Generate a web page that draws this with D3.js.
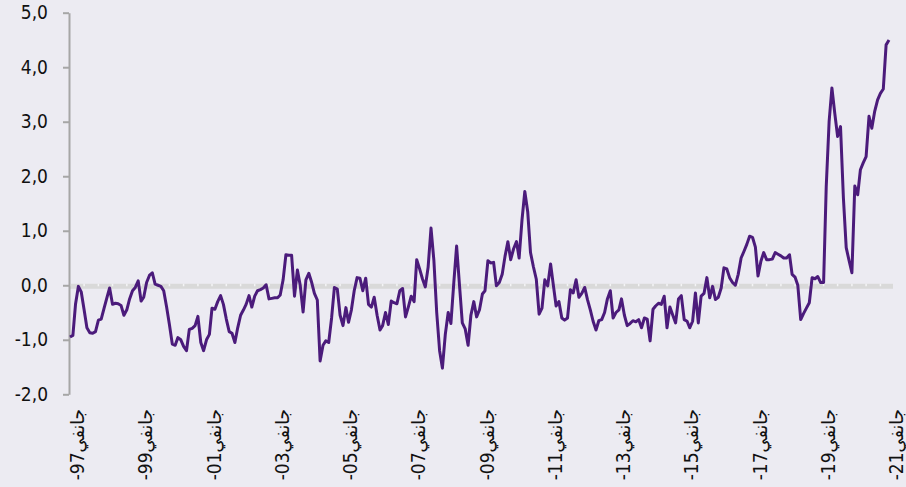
<!DOCTYPE html>
<html>
<head>
<meta charset="utf-8">
<script src="https://cdn.jsdelivr.net/npm/d3@7"></script>
<style>
body { margin: 0; background: #ecebf2; }
svg { display: block; }
text { font-family: "Liberation Sans Narrow", "DejaVu Sans Condensed", sans-serif; fill: #111; }
</style>
</head>
<body>
<div id="chart"></div>
<script>
// monthly series, starting January 1997
let startYear = 1997;
let values = [
  -0.95, -0.92, -0.35, -0.02, -0.12, -0.45, -0.78, -0.87, -0.88, -0.85, -0.64, -0.62,
  -0.42, -0.22, -0.05, -0.35, -0.33, -0.34, -0.37, -0.55, -0.45, -0.25, -0.10, -0.04,
   0.08, -0.29, -0.22,  0.05,  0.18,  0.23,  0.02,  0.00, -0.02, -0.10, -0.40, -0.72,
  -1.08, -1.10, -0.96, -1.00, -1.12, -1.20, -0.81, -0.79, -0.74, -0.57, -1.05, -1.20,
  -1.00, -0.90, -0.42, -0.44, -0.30, -0.19, -0.35, -0.62, -0.85, -0.88, -1.05, -0.78,
  -0.55, -0.45, -0.35, -0.19, -0.40, -0.20, -0.10, -0.08, -0.05,  0.01, -0.25, -0.24,
  -0.23, -0.23, -0.18,  0.10,  0.56,  0.55,  0.55, -0.20,  0.28,  0.00, -0.49,  0.10,
   0.22,  0.05, -0.15, -0.27, -1.39, -1.10, -1.02, -1.05, -0.60, -0.04, -0.07, -0.55,
  -0.74, -0.41, -0.68, -0.45, -0.10,  0.14,  0.13, -0.10,  0.13, -0.35, -0.40, -0.22,
  -0.55, -0.82, -0.74, -0.50, -0.72, -0.29, -0.32, -0.34, -0.10, -0.06, -0.58, -0.40,
  -0.20, -0.30,  0.47,  0.30,  0.12, -0.03,  0.33,  1.05,  0.45, -0.50, -1.20, -1.52,
  -0.90, -0.50, -0.70,  0.05,  0.72,  0.00, -0.69, -0.80, -1.10, -0.55, -0.30, -0.58,
  -0.45, -0.16, -0.10,  0.45,  0.41,  0.42, -0.01,  0.05,  0.20,  0.53,  0.80,  0.47,
   0.67,  0.80,  0.50,  1.20,  1.72,  1.35,  0.60,  0.34,  0.11, -0.53, -0.42,  0.10,
  -0.01,  0.39,  0.02, -0.38, -0.30, -0.60, -0.64, -0.60, -0.08, -0.14,  0.10, -0.22,
  -0.15, -0.04, -0.26, -0.45, -0.66, -0.82, -0.65, -0.63, -0.50, -0.25, -0.10, -0.60,
  -0.50, -0.45, -0.25, -0.55, -0.74, -0.70, -0.65, -0.67, -0.63, -0.78, -0.60, -0.62,
  -1.02, -0.44, -0.38, -0.33, -0.35, -0.20, -0.78, -0.40, -0.55, -0.69, -0.25, -0.19,
  -0.63, -0.66, -0.78, -0.66, -0.14, -0.69, -0.20, -0.15,  0.14, -0.23, -0.02, -0.26,
  -0.22, -0.05,  0.32,  0.30,  0.14,  0.05,  0.00,  0.20,  0.50,  0.62,  0.75,  0.90,
   0.88,  0.70,  0.17,  0.44,  0.60,  0.47,  0.47,  0.48,  0.60,  0.57,  0.54,  0.50,
   0.50,  0.56,  0.20,  0.15,  0.00, -0.63, -0.52, -0.42, -0.32,  0.14,  0.12,  0.16,
   0.05,  0.05,  1.80,  3.00,  3.62,  3.15,  2.73,  2.91,  1.60,  0.69,  0.45,  0.23,
   1.82,  1.66,  2.12,  2.25,  2.36,  3.10,  2.88,  3.19,  3.40,  3.52,  3.60,  4.41,
   4.50
];
let yTicks = [-2, -1, 0, 1, 2, 3, 4, 5];
let labelYears = ["97", "99", "01", "03", "05", "07", "09", "11", "13", "15", "17", "19", "21"];
let monthName = "جانفي";

let width = 906, height = 487;

let dates = values.map((v, i) => new Date(startYear, i, 1));

let xScale = d3.scaleTime()
    .domain([dates[0], dates[dates.length - 1]])
    .range([70, 889]);

let yScale = d3.scaleLinear()
    .domain([-2, 5])
    .range([394.3, 12.7]);

let svg = d3.select("#chart")
    .append("svg")
    .attr("width", width)
    .attr("height", height);

svg.append("rect")
    .attr("width", width)
    .attr("height", height)
    .attr("fill", "#ecebf2");

// zero line (category axis)
svg.append("line")
    .attr("x1", 69)
    .attr("x2", 893)
    .attr("y1", yScale(0) + 1)
    .attr("y2", yScale(0) + 1)
    .attr("stroke", "#d9d9d9")
    .attr("stroke-width", 5);

svg.append("g")
    .selectAll("line")
    .data(d3.range(0, dates.length, 5))
    .enter()
    .append("line")
    .attr("x1", d => xScale(dates[d]))
    .attr("x2", d => xScale(dates[d]))
    .attr("y1", yScale(0) - 1.5)
    .attr("y2", yScale(0) + 1)
    .attr("stroke", "#f4f4f6")
    .attr("stroke-width", 1.5);

// y axis
let yAxis = d3.axisLeft(yScale)
    .tickValues(yTicks)
    .tickSize(6)
    .tickSizeOuter(0)
    .tickPadding(15)
    .tickFormat(d => d.toFixed(1).replace(".", ","));

let yg = svg.append("g")
    .attr("transform", "translate(69,0)")
    .call(yAxis);
yg.select(".domain").attr("stroke", "#a6a6a6").attr("stroke-width", 2);
yg.selectAll(".tick line").attr("stroke", "#a6a6a6").attr("stroke-width", 2);
yg.selectAll(".tick text")
    .style("font-family", "'Liberation Sans Narrow', 'DejaVu Sans Condensed', sans-serif")
    .style("font-size", "19px")
    .attr("fill", "#111");

// data line
let line = d3.line()
    .x((d, i) => xScale(dates[i]))
    .y(d => yScale(d));

svg.append("path")
    .datum(values)
    .attr("fill", "none")
    .attr("stroke", "#4b1b7b")
    .attr("stroke-width", 3)
    .attr("stroke-linejoin", "round")
    .attr("d", line);

// x labels, rotated
svg.append("g")
    .selectAll("text")
    .data(labelYears)
    .enter()
    .append("text")
    .attr("transform", d => {
        let yr = (+d < 50 ? 2000 : 1900) + (+d);
        return `translate(${xScale(new Date(yr, 0, 1)) + 7}, 409) rotate(-90)`;
    })
    .attr("text-anchor", "end")
    .attr("dominant-baseline", "central")
    .style("font-size", "19px")
    .text(d => "-" + d + "\u200E" + monthName);
</script>
</body>
</html>
